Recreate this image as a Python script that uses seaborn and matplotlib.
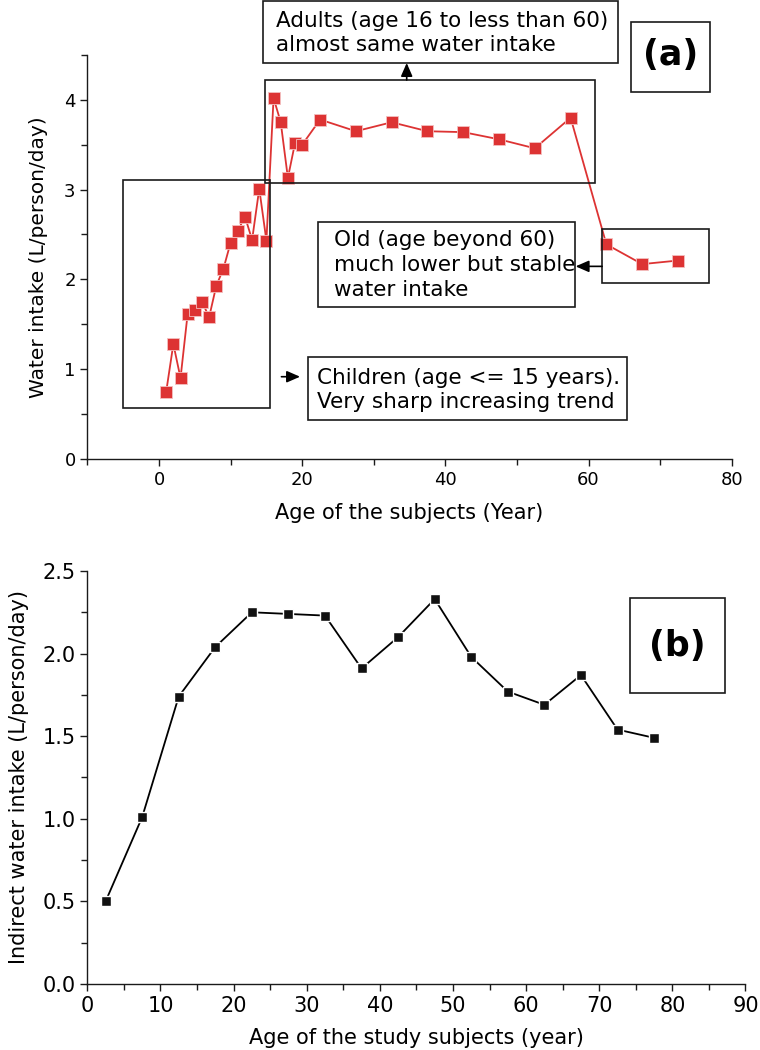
import matplotlib
matplotlib.use("Agg")
import pandas as pd
import matplotlib.pyplot as plt
import seaborn as sns
from matplotlib.patches import Rectangle
from matplotlib.ticker import MultipleLocator, FormatStrFormatter

# =========================
# Datos
# =========================

# (a) consumo total de agua por edad
age_a = [1, 2, 3, 4, 5, 6, 7, 8, 9, 10, 11, 12, 13, 14, 15,
         16, 17, 18, 19, 20, 22.5, 27.5, 32.5, 37.5, 42.5, 47.5, 52.5, 57.5,
         62.5, 67.5, 72.5]
intake_a = [0.75, 1.28, 0.90, 1.62, 1.66, 1.75, 1.58, 1.93, 2.12, 2.41, 2.54, 2.70, 2.44, 3.01, 2.43,
            4.02, 3.75, 3.13, 3.52, 3.50, 3.78, 3.65, 3.75, 3.65, 3.64, 3.56, 3.46, 3.80,
            2.39, 2.17, 2.21]

# (b) consumo indirecto de agua por edad
age_b = [2.5, 7.5, 12.5, 17.5, 22.5, 27.5, 32.5, 37.5, 42.5, 47.5, 52.5, 57.5, 62.5, 67.5, 72.5, 77.5]
intake_b = [0.50, 1.01, 1.74, 2.04, 2.25, 2.24, 2.23, 1.91, 2.10, 2.33, 1.98, 1.77, 1.69, 1.87, 1.54, 1.49]

text_adults = "Adults (age 16 to less than 60)\nalmost same water intake"
text_old = "Old (age beyond 60)\nmuch lower but stable\nwater intake"
text_children = "Children (age <= 15 years).\nVery sharp increasing trend"

W, H = 760, 1050
RED = "#dd3333"
EDGE = "#1a1a1a"

sns.set_style("ticks")
plt.rcParams["font.family"] = ["DejaVu Sans"]
plt.rcParams["text.color"] = "black"
plt.rcParams["axes.labelcolor"] = "black"
plt.rcParams["xtick.color"] = "black"
plt.rcParams["ytick.color"] = "black"


def fig_box(fig, x0, y0, x1, y1):
    """Caja en pixeles de figura (origen arriba a la izquierda)."""
    fig.add_artist(Rectangle((x0 / W, 1 - y1 / H), (x1 - x0) / W, (y1 - y0) / H,
                             transform=fig.transFigure, fill=False, lw=1.2, ec=EDGE))


def fig_text(fig, x, y, s, **kw):
    fig.text(x / W, 1 - y / H, s, **kw)


def style_axis(ax):
    sns.despine(ax=ax)
    for side in ["left", "bottom"]:
        ax.spines[side].set_linewidth(1.0)
        ax.spines[side].set_color(EDGE)
    ax.tick_params(which="major", direction="out", length=5, width=1.0, color=EDGE)
    ax.tick_params(which="minor", direction="out", length=4, width=1.0, color=EDGE)


fig = plt.figure(figsize=(W / 100, H / 100), dpi=100)

# =========================
# Panel (a)
# =========================
ax_a = fig.add_axes([0.1151, 0.5629, 0.8476, 0.3848])
df_a = pd.DataFrame({"age": age_a, "intake": intake_a})
sns.lineplot(data=df_a, x="age", y="intake", ax=ax_a, sort=False, estimator=None,
             color=RED, lw=1.3, marker="s", markersize=9, mec="#f4c0c0", mew=0.6)
ax_a.set_xlim(-10, 80)
ax_a.set_ylim(0, 4.5)
ax_a.xaxis.set_major_locator(MultipleLocator(20))
ax_a.xaxis.set_minor_locator(MultipleLocator(10))
ax_a.yaxis.set_major_locator(MultipleLocator(1))
ax_a.yaxis.set_minor_locator(MultipleLocator(0.5))
style_axis(ax_a)
ax_a.tick_params(labelsize=13)
ax_a.set_xlabel("Age of the subjects (Year)", fontsize=15, labelpad=10)
ax_a.set_ylabel("Water intake (L/person/day)", fontsize=14.5, labelpad=12)

# cajas alrededor de los grupos de edad (coordenadas de datos)
for (x0, x1, y0, y1) in [(-5.1, 15.5, 0.573, 3.11), (14.74, 60.97, 3.07, 4.22), (61.9, 76.9, 1.96, 2.556)]:
    ax_a.add_patch(Rectangle((x0, y0), x1 - x0, y1 - y0, fill=False, lw=1.2, ec=EDGE,
                             clip_on=False, zorder=3))

arrow = dict(arrowstyle="-|>,head_length=0.8,head_width=0.35", color="black", lw=1.2,
             shrinkA=0, shrinkB=0)
ax_a.annotate("", xy=(34.6, 4.41), xytext=(34.6, 4.22), arrowprops=arrow, annotation_clip=False)
ax_a.annotate("", xy=(19.7, 0.916), xytext=(17.1, 0.916), arrowprops=arrow, annotation_clip=False)
ax_a.annotate("", xy=(58.2, 2.145), xytext=(61.9, 2.145), arrowprops=arrow, annotation_clip=False)

# cajas de texto
fig_box(fig, 263, 1, 618, 63)
fig_text(fig, 276, 33, text_adults, fontsize=15.5, va="center", ha="left", linespacing=1.3)
fig_box(fig, 318, 222, 575, 307)
fig_text(fig, 334, 265, text_old, fontsize=15.5, va="center", ha="left", linespacing=1.3)
fig_box(fig, 308, 357, 627, 420)
fig_text(fig, 317, 390, text_children, fontsize=15.5, va="center", ha="left", linespacing=1.3)

fig_box(fig, 631, 22, 710, 92)
fig_text(fig, 671, 55, "(a)", fontsize=25, fontweight="bold", va="center", ha="center")

# =========================
# Panel (b)
# =========================
ax_b = fig.add_axes([0.1149, 0.0629, 0.866, 0.3933])
df_b = pd.DataFrame({"age": age_b, "intake": intake_b})
sns.lineplot(data=df_b, x="age", y="intake", ax=ax_b, sort=False, estimator=None,
             color="black", lw=1.3, marker="s", markersize=7.5, mec="white", mew=1.0,
             markerfacecolor="#111111")
ax_b.set_xlim(0, 90)
ax_b.set_ylim(0, 2.5)
ax_b.xaxis.set_major_locator(MultipleLocator(10))
ax_b.xaxis.set_minor_locator(MultipleLocator(5))
ax_b.yaxis.set_major_locator(MultipleLocator(0.5))
ax_b.yaxis.set_minor_locator(MultipleLocator(0.25))
ax_b.yaxis.set_major_formatter(FormatStrFormatter("%.1f"))
style_axis(ax_b)
ax_b.tick_params(labelsize=15)
ax_b.set_xlabel("Age of the study subjects (year)", fontsize=15, labelpad=9)
ax_b.set_ylabel("Indirect water intake (L/person/day)", fontsize=15, labelpad=10)

fig_box(fig, 630, 598, 725, 693)
fig_text(fig, 677, 646, "(b)", fontsize=25, fontweight="bold", va="center", ha="center")

fig.savefig("out.png", dpi=100)
plt.close(fig)
